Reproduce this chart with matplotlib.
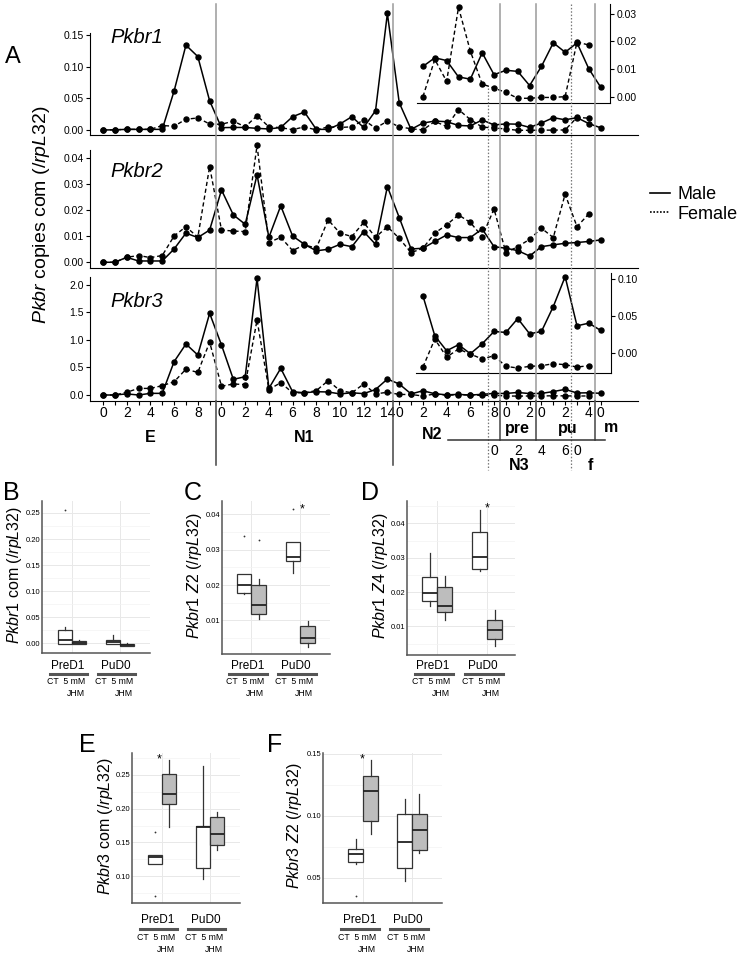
import matplotlib
matplotlib.use("Agg")
import matplotlib.pyplot as plt
from matplotlib.lines import Line2D
from matplotlib.transforms import blended_transform_factory
from matplotlib.ticker import AutoMinorLocator, FormatStrFormatter

plt.rcParams['font.family'] = ['Liberation Sans', 'DejaVu Sans']
plt.rcParams['mathtext.fontset'] = 'custom'
plt.rcParams['mathtext.rm'] = 'Liberation Sans'
plt.rcParams['mathtext.it'] = 'Liberation Sans:italic'

# ---- panel A data (one point per sampled day, stages E, N1, N2, pre, pu, m) ----
stage_names = ['E', 'N1', 'N2', 'pre', 'pu', 'm']
stage_days = [10, 15, 9, 3, 5, 1]

pkbr1_male = [0, 0.0003, 0.001, 0.001, 0.001, 0.001, 0.0616, 0.134, 0.116, 0.046,
              0.0037, 0.004, 0.004, 0.0026, 0.0016, 0.004, 0.021, 0.0284, 0.001, 0.001,
              0.0095, 0.021, 0.004, 0.0305, 0.184,
              0.043, 0.001,
              0.0110, 0.0141, 0.0131, 0.0072, 0.0064, 0.0159, 0.0080, 0.0096, 0.0092,
              0.0041, 0.0110, 0.0195, 0.0161, 0.0195, 0.0101, 0.0035]
pkbr1_female = [0, 0.0003, 0.001, 0.001, 0.001, 0.007, 0.006, 0.017, 0.019, 0.0095,
                0.009, 0.014, 0.005, 0.0226, 0.005, 0.0037, 0.0005, 0.005, 0, 0.005,
                0.004, 0.005, 0.016, 0.003, 0.014,
                0.005, 0.002,
                0.0001, 0.0135, 0.0056, 0.0323, 0.0165, 0.0046, 0.0032, 0.0016, -0.0005,
                -0.0005, -0.0002, -0.0002, 0.0001, 0.0198, 0.0187]
pkbr2_male = [0, 0, 0.0019, 0.0005, 0.0005, 0.0005, 0.0051, 0.0112, 0.0095, 0.0124,
              0.0278, 0.0182, 0.0146, 0.0336, 0.0096, 0.0217, 0.0101, 0.0069, 0.0044, 0.005,
              0.0069, 0.006, 0.0118, 0.0069, 0.0291,
              0.0172, 0.0051, 0.0054, 0.008, 0.0105, 0.0095, 0.0095, 0.0128, 0.006, 0.0054,
              0.0045, 0.0024, 0.006, 0.0067, 0.0073, 0.0076, 0.008, 0.0086]
pkbr2_female = [0, 0, 0.0019, 0.0026, 0.0018, 0.0026, 0.0101, 0.0137, 0.0096, 0.0368,
                0.0124, 0.012, 0.0118, 0.0449, 0.0076, 0.0096, 0.0045, 0.0067, 0.0054, 0.0163,
                0.0112, 0.0099, 0.0153, 0.0096, 0.0137,
                0.0092, 0.0037, 0.0054, 0.0112, 0.0144, 0.0182, 0.0153, 0.0099, 0.0205, 0.0037,
                0.006, 0.0088, 0.0131, 0.0095, 0.0262, 0.0137, 0.0186]
pkbr3_male = [0, 0, 0.02, 0, 0.03, 0.03, 0.606, 0.927, 0.727, 1.485,
              0.909, 0.285, 0.333, 2.12, 0.121, 0.485, 0.06, 0.04, 0.06, 0.055,
              0.02, 0.04, 0.025, 0.1, 0.29,
              0.2, 0.02,
              0.0768, 0.0232, 0.0031, 0.0112, -0.0009, 0.0125, 0.029, 0.0277, 0.0464,
              0.0259, 0.029, 0.0625, 0.1027, 0.0366, 0.0402, 0.0304]
pkbr3_female = [0, 0, 0.05, 0.12, 0.12, 0.17, 0.24, 0.47, 0.41, 0.96,
                0.16, 0.2, 0.19, 1.364, 0.1, 0.224, 0.04, 0.04, 0.08, 0.26,
                0.08, 0.04, 0.2, 0.02, 0.05,
                0.01, 0.01,
                -0.0188, 0.0188, -0.0054, 0.0054, -0.0013, -0.008, -0.0036, -0.0179, -0.0201,
                -0.0179, -0.017, -0.0143, -0.0156, -0.0188, -0.017]

# ---- boxplot data: PreD1 CT, PreD1 JHM, PuD0 CT, PuD0 JHM ----
b_q1 = [-0.0013, -0.0026, -0.0013, -0.005]
b_med = [0.0064, 0.0006, 0.002, -0.0038]
b_q3 = [0.0243, 0.004, 0.0064, -0.0026]
b_lo = [-0.0013, -0.0026, -0.0026, -0.005]
b_hi = [0.0307, 0.0064, 0.0147, 0.0]
b_out = [[0.255], [], [], []]

c_q1 = [0.0178, 0.0118, 0.0267, 0.0036]
c_med = [0.0201, 0.0144, 0.0279, 0.005]
c_q3 = [0.023, 0.0199, 0.0322, 0.0085]
c_lo = [0.0176, 0.0104, 0.0234, 0.0026]
c_hi = [0.0232, 0.0217, 0.0322, 0.0099]
c_out = [[0.0338], [0.0327], [0.0414], []]

d_q1 = [0.0174, 0.0141, 0.0266, 0.0063]
d_med = [0.0198, 0.0159, 0.0303, 0.009]
d_q3 = [0.0243, 0.0216, 0.0376, 0.0118]
d_lo = [0.0159, 0.012, 0.0261, 0.0044]
d_hi = [0.0315, 0.0247, 0.044, 0.0149]
d_out = [[], [], [], []]

e_q1 = [0.1187, 0.2067, 0.1123, 0.1467]
e_med = [0.128, 0.2214, 0.1728, 0.163]
e_q3 = [0.132, 0.251, 0.1747, 0.1875]
e_lo = [0.1187, 0.1728, 0.096, 0.1384]
e_hi = [0.132, 0.271, 0.2632, 0.1944]
e_out = [[0.166, 0.0705], [], [], []]

f_q1 = [0.0629, 0.0957, 0.0581, 0.0728]
f_med = [0.0696, 0.1199, 0.0788, 0.0884]
f_q3 = [0.0734, 0.1325, 0.1019, 0.1019]
f_lo = [0.0616, 0.0858, 0.0473, 0.0702]
f_hi = [0.0815, 0.1454, 0.1137, 0.118]
f_out = [[0.0358], [], [], []]

groups = ['PreD1', 'PuD0']

W, H = 750, 958


def rect(x0, y0, x1, y1):
    return [x0 / W, 1 - y1 / H, (x1 - x0) / W, (y1 - y0) / H]


def fy(ypx):
    return 1 - ypx / H


fig = plt.figure(figsize=(7.5, 9.58), dpi=100)

XLIM = (-1.097, 45.15)


def draw_lines(ax, male, female):
    ax.plot(range(len(male)), male, color='black', lw=1.1, marker='o', ms=3.6, clip_on=False)
    ax.plot(range(len(female)), female, color='black', lw=1.0, ls=(0, (3, 2)),
            marker='o', ms=3.6, clip_on=False)


def main_axes(ypx, ylim, yticks, top_val, name, name_y):
    ax = fig.add_axes(rect(90, ypx[0], 638, ypx[1]))
    draw_lines(ax, *data[name])
    ax.set_xlim(*XLIM)
    ax.set_ylim(*ylim)
    ax.set_yticks(yticks)
    ax.yaxis.set_major_formatter(FormatStrFormatter('%.2f' if yticks[-1] < 1 else '%.1f'))
    ax.patch.set_visible(False)
    for s in ['top', 'right']:
        ax.spines[s].set_visible(False)
    ax.spines['left'].set_bounds(ylim[0], top_val)
    ax.tick_params(axis='y', length=3, labelsize=7.5, pad=1.5)
    ax.tick_params(axis='x', length=0, labelbottom=False)
    fig.text(110 / W, fy(name_y), name, style='italic', fontsize=14.5, va='baseline')
    return ax


data = {'Pkbr1': (pkbr1_male, pkbr1_female),
        'Pkbr2': (pkbr2_male, pkbr2_female),
        'Pkbr3': (pkbr3_male, pkbr3_female)}

ax1 = main_axes((10, 135), (-0.0079, 0.1895), [0, 0.05, 0.10, 0.15], 0.153, 'Pkbr1', 43)
ax2 = main_axes((140, 268), (-0.0022, 0.047), [0, 0.01, 0.02, 0.03, 0.04], 0.0432, 'Pkbr2', 177)
ax3 = main_axes((272, 401), (-0.109, 2.236), [0, 0.5, 1.0, 1.5, 2.0], 2.145, 'Pkbr3', 307)

# x axis of the bottom panel
labels = []
for n in stage_days:
    labels += [str(d) if d % 2 == 0 else '' for d in range(n)]
ax3.set_xticks(range(len(labels)))
ax3.set_xticklabels(labels)
ax3.tick_params(axis='x', length=3, labelsize=10, pad=0.5, labelbottom=True)


def inset(px, ylim, yticks, name):
    ax = fig.add_axes(rect(*px))
    draw_lines(ax, [None] * 27 + data[name][0][27:], [None] * 27 + data[name][1][27:])
    ax.set_xlim((px[0] - 103) / 11.85, (px[2] - 103) / 11.85)
    ax.set_ylim(*ylim)
    ax.set_yticks(yticks)
    ax.yaxis.set_major_formatter(FormatStrFormatter('%.2f'))
    ax.patch.set_visible(False)
    for s in ['top', 'left']:
        ax.spines[s].set_visible(False)
    ax.yaxis.tick_right()
    ax.tick_params(axis='y', length=3, labelsize=7.5, pad=1.5)
    ax.tick_params(axis='x', length=0, labelbottom=False)
    return ax


inset((417, 4, 610, 103), (-0.0022, 0.0335), [0, 0.01, 0.02, 0.03], 'Pkbr1')
inset((416, 273, 611, 373), (-0.0268, 0.1076), [0, 0.05, 0.10], 'Pkbr3')

# stage separators and stage labels
bt = blended_transform_factory(ax3.transData, fig.transFigure)
for x, y_end in [(9.5, 465), (24.5, 465), (33.5, 440), (36.5, 440), (41.5, 440)]:
    fig.add_artist(Line2D([x, x], [fy(4), fy(401)], transform=bt, color='#9a9a9a', lw=1.1))
    fig.add_artist(Line2D([x, x], [fy(401), fy(y_end)], transform=bt, color='#444444', lw=1.1))
for x, y_start in [(32.5, 88), (39.5, 4)]:
    fig.add_artist(Line2D([x, x], [fy(y_start), fy(470)], transform=bt, color='#777777',
                          lw=0.9, ls=(0, (1.2, 1.5))))
fig.add_artist(Line2D([29.1, 42.4], [fy(440), fy(440)], transform=bt, color='#333333', lw=1.1))

for txt, x, y in [('E', 4, 438), ('N1', 17, 438), ('N2', 27.8, 435), ('pre', 35, 428),
                  ('pu', 39.2, 428), ('m', 42.9, 427), ('N3', 35.1, 466), ('f', 41.1, 466)]:
    fig.text(x, fy(y), txt, transform=bt, ha='center', va='center', fontsize=11.5, fontweight='bold')
for txt, x in [('0', 33), ('2', 35), ('4', 37), ('6', 39), ('0', 40)]:
    fig.text(x, fy(451), txt, transform=bt, ha='center', va='center', fontsize=10)

fig.legend(handles=[Line2D([], [], color='black', lw=1.2),
                    Line2D([], [], color='black', lw=1.2, ls=(0, (1, 1)))],
           labels=['Male', 'Female'], loc='upper left', bbox_to_anchor=(650 / W, fy(186)),
           frameon=False, fontsize=13, handlelength=1.1, handletextpad=0.4,
           labelspacing=0.15, borderaxespad=0, borderpad=0)

fig.text(42 / W, fy(215), r'$\mathit{Pkbr}$ copies com (/$\mathit{rpL32}$)', rotation=90,
         ha='center', va='center', fontsize=14)
fig.text(13 / W, fy(57), 'A', ha='center', va='center', fontsize=17)


# ---- box panels ----
def box_panel(px, q1, med, q3, lo, hi, out, xlim, ylim, yticks, ylabel, ylab_x,
              letter, letter_xy, star, rows):
    ax = fig.add_axes(rect(*px))
    stats = [dict(q1=q1[i], med=med[i], q3=q3[i], whislo=lo[i], whishi=hi[i], fliers=out[i])
             for i in range(4)]
    bp = ax.bxp(stats, positions=[0.85, 1.15, 1.85, 2.15], widths=0.3, patch_artist=True,
                showcaps=False,
                boxprops=dict(edgecolor='#333333', lw=0.9),
                medianprops=dict(color='#222222', lw=1.3),
                whiskerprops=dict(color='#333333', lw=0.9),
                flierprops=dict(marker='o', ms=1.3, mfc='#333333', mec='none'))
    for patch, fc in zip(bp['boxes'], ['white', '#bdbdbd', 'white', '#bdbdbd']):
        patch.set_facecolor(fc)
    ax.set_xlim(*xlim)
    ax.set_ylim(*ylim)
    ax.set_xticks([1, 2])
    ax.set_yticks(yticks)
    ax.yaxis.set_minor_locator(AutoMinorLocator(2))
    ax.yaxis.set_major_formatter(FormatStrFormatter('%.2f'))
    ax.grid(which='major', color='#e8e8e8', lw=0.7)
    ax.grid(which='minor', axis='y', color='#f3f3f3', lw=0.5)
    ax.set_axisbelow(True)
    for s in ['top', 'right']:
        ax.spines[s].set_visible(False)
    for s in ['left', 'bottom']:
        ax.spines[s].set_color('#555555')
        ax.spines[s].set_linewidth(1.1)
    ax.tick_params(which='both', length=0, labelbottom=False, pad=1, labelsize=5.5)
    mid = (px[1] + px[3]) / 2
    fig.text(ylab_x / W, fy(mid - 2), ylabel, rotation=90, ha='center', va='center', fontsize=11.5)
    fig.text(letter_xy[0] / W, fy(letter_xy[1]), letter, ha='center', va='center', fontsize=18)
    if star is not None:
        ax.text(star[0], star[1], '*', ha='center', va='center', fontsize=9)
    bx = blended_transform_factory(ax.transData, fig.transFigure)
    for g, name in zip([1, 2], groups):
        fig.text(g - 0.08, fy(rows[0]), name, transform=bx, ha='center', va='center',
                 fontsize=8.5)
        fig.add_artist(Line2D([g - 0.45, g + 0.32], [fy(rows[1]), fy(rows[1])], transform=bx,
                              color='#555555', lw=2.2))
        fig.text(g + 0.27, fy(rows[2]), 'CT  5 mM', transform=bx, ha='right', va='center',
                 fontsize=6.3)
        fig.text(g + 0.27, fy(rows[3]), 'JHM', transform=bx, ha='right', va='center',
                 fontsize=6.3)
    return ax


rows_top = (666, 674, 681, 694)
rows_bot = (920, 929, 938, 950)

box_panel((42, 501, 150, 653), b_q1, b_med, b_q3, b_lo, b_hi, b_out, (0.375, 2.625),
          (-0.019, 0.273), [0, 0.05, 0.10, 0.15, 0.20, 0.25],
          r'$\mathit{Pkbr1}$ com (/$\mathit{rpL32}$)', 14, 'B', (11, 493), None, rows_top)
box_panel((222, 501, 330, 654), c_q1, c_med, c_q3, c_lo, c_hi, c_out, (0.40, 2.61),
          (0.0005, 0.0438), [0.01, 0.02, 0.03, 0.04],
          r'$\mathit{Pkbr1\ Z2}$ (/$\mathit{rpL32}$)', 195, 'C', (193, 493), (2.04, 0.0414), rows_top)
box_panel((407, 501, 515, 655), d_q1, d_med, d_q3, d_lo, d_hi, d_out, (0.40, 2.56),
          (0.0017, 0.0465), [0.01, 0.02, 0.03, 0.04],
          r'$\mathit{Pkbr1\ Z4}$ (/$\mathit{rpL32}$)', 381, 'D', (370, 493), (2.0, 0.0444), rows_top)
box_panel((132, 753, 240, 903), e_q1, e_med, e_q3, e_lo, e_hi, e_out, (0.375, 2.625),
          (0.0607, 0.282), [0.10, 0.15, 0.20, 0.25],
          r'$\mathit{Pkbr3}$ com (/$\mathit{rpL32}$)', 105, 'E', (87, 745), (0.94, 0.273), rows_bot)
box_panel((323, 753, 442, 903), f_q1, f_med, f_q3, f_lo, f_hi, f_out, (0.18, 2.61),
          (0.0298, 0.1508), [0.05, 0.10, 0.15],
          r'$\mathit{Pkbr3\ Z2}$ (/$\mathit{rpL32}$)', 295, 'F', (275, 745), (0.97, 0.1454), rows_bot)

fig.savefig('out.png', dpi=100)
